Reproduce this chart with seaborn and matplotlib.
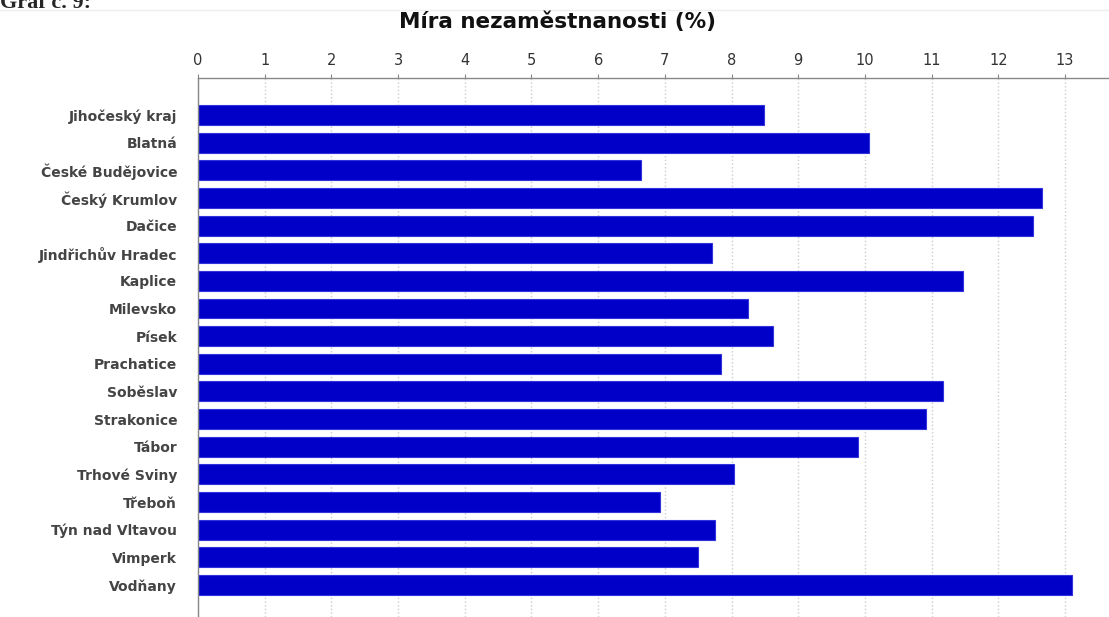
import matplotlib
matplotlib.use("Agg")
import matplotlib.pyplot as plt
from matplotlib.lines import Line2D
import seaborn as sns
import pandas as pd

# data
okresy = ['Jihočeský kraj', 'Blatná', 'České Budějovice', 'Český Krumlov', 'Dačice',
          'Jindřichův Hradec', 'Kaplice', 'Milevsko', 'Písek', 'Prachatice', 'Soběslav',
          'Strakonice', 'Tábor', 'Trhové Sviny', 'Třeboň', 'Týn nad Vltavou', 'Vimperk',
          'Vodňany']
mira = [8.49, 10.06, 6.64, 12.66, 12.52, 7.70, 11.47, 8.24, 8.62, 7.84, 11.17,
        10.92, 9.90, 8.04, 6.93, 7.75, 7.50, 13.11]
ticks = list(range(0, 14))

df = pd.DataFrame({'okres': okresy, 'mira': mira})

sns.set_style("white")
plt.rcParams['font.family'] = ['DejaVu Sans']

fig = plt.figure(figsize=(11.09, 6.17), dpi=100)
ax = fig.add_axes([198 / 1109, 0.0, 1 - 198 / 1109, 1 - 78 / 617])

sns.barplot(data=df, x='mira', y='okres', orient='h', color='#0000c8',
            edgecolor='#3333dd', linewidth=0.8, width=0.72, saturation=1, ax=ax)

ax.set_xlim(0, 13.66)
ax.set_ylim(18.16, -1.34)
ax.set_xticks(ticks)
ax.xaxis.tick_top()
ax.tick_params(axis='x', length=3, color='#888888', labelsize=10.5, labelcolor='#333333', pad=4)
ax.tick_params(axis='y', length=0, labelsize=10, labelcolor='#444444', pad=15)
for lab in ax.get_yticklabels():
    lab.set_fontweight('bold')
ax.set_xlabel('')
ax.set_ylabel('')
ax.grid(axis='x', color='#cccccc', linestyle=':', linewidth=1)
ax.set_axisbelow(True)

for s in ['right', 'bottom']:
    ax.spines[s].set_visible(False)
for s in ['top', 'left']:
    ax.spines[s].set_color('#888888')
    ax.spines[s].set_linewidth(1)

fig.text(0.503, 1 - 22 / 617, 'Míra nezaměstnanosti (%)', ha='center', va='center',
         fontsize=15.5, fontweight='bold', color='#111111')
fig.text(0.0, 1 - 8 / 617, 'Graf č. 9:', ha='left', va='baseline',
         fontsize=16, fontweight='bold', family='Liberation Serif')
fig.add_artist(Line2D([0, 1], [1 - 10 / 617, 1 - 10 / 617], color='#eeeeee', linewidth=1))

fig.savefig('out.png', dpi=100)
